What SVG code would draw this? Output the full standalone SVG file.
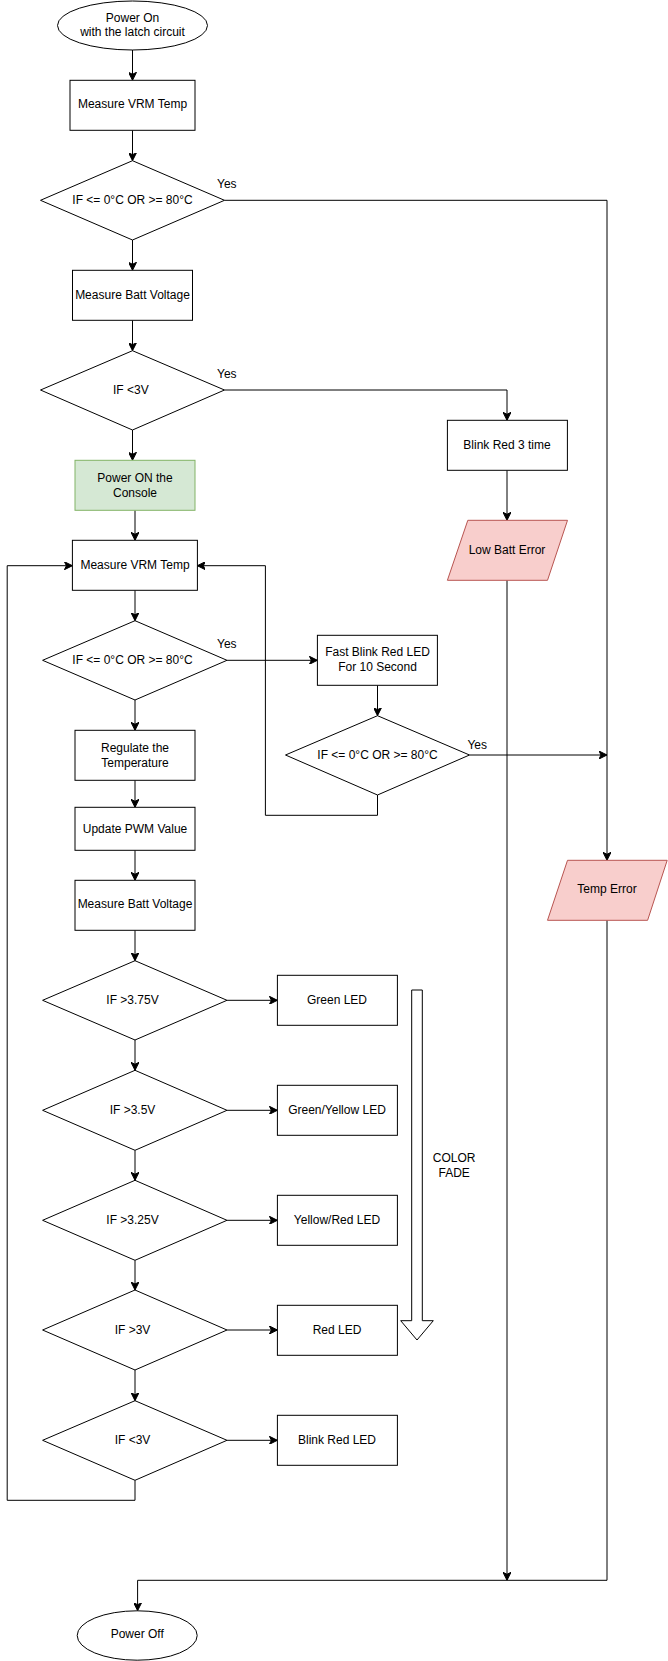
<svg xmlns="http://www.w3.org/2000/svg" width="668" height="1661" viewBox="0 0 668 1661">
<style>
  .n { fill: #ffffff; stroke: #000000; stroke-width: 1; }
  .g { fill: #d5e8d4; stroke: #82b366; stroke-width: 1; }
  .r { fill: #f8cecc; stroke: #b85450; stroke-width: 1; }
  .c { fill: none; stroke: #000000; stroke-width: 1; }
  .t { font-family: "Liberation Sans", Arial, sans-serif; font-size: 12px; fill: #000000; text-anchor: middle; dominant-baseline: central; }
  .y { font-family: "Liberation Sans", Arial, sans-serif; font-size: 12px; fill: #000000; text-anchor: start; dominant-baseline: central; }
</style>
<defs>
  <marker id="ar" viewBox="0 0 8 8" refX="8" refY="4" markerWidth="8" markerHeight="8" markerUnits="userSpaceOnUse" orient="auto">
    <path d="M0,0 L8,4 L0,8 L2,4 z" fill="#000000" stroke="#000000" stroke-width="1"/>
  </marker>
</defs>
<rect width="668" height="1661" fill="#ffffff"/>

<g id="connectors">
  <path class="c" marker-end="url(#ar)" d="M132.5,50 L132.5,80.3"/>
  <path class="c" marker-end="url(#ar)" d="M132.5,130.3 L132.5,160.7"/>
  <path class="c" marker-end="url(#ar)" d="M132.5,240 L132.5,270.3"/>
  <path class="c" marker-end="url(#ar)" d="M224.5,200.3 L607,200.3 L607,860.3"/>
  <path class="c" marker-end="url(#ar)" d="M132.5,320.3 L132.5,350.7"/>
  <path class="c" marker-end="url(#ar)" d="M224.5,390 L507,390 L507,420.3"/>
  <path class="c" marker-end="url(#ar)" d="M132.5,430 L132.5,460.3"/>
  <path class="c" marker-end="url(#ar)" d="M507,470.3 L507,520.3"/>
  <path class="c" marker-end="url(#ar)" d="M135,510.3 L135,540.3"/>
  <path class="c" marker-end="url(#ar)" d="M135,590.3 L135,620.7"/>
  <path class="c" marker-end="url(#ar)" d="M227,660.3 L317.4,660.3"/>
  <path class="c" marker-end="url(#ar)" d="M377.5,685.3 L377.5,715.7"/>
  <path class="c" marker-end="url(#ar)" d="M469.5,755 L607,755"/>
  <path class="c" marker-end="url(#ar)" d="M377.5,795 L377.5,815.3 L265.4,815.3 L265.4,565.7 L197.3,565.7"/>
  <path class="c" marker-end="url(#ar)" d="M135,700 L135,730.3"/>
  <path class="c" marker-end="url(#ar)" d="M135,780.3 L135,807.3"/>
  <path class="c" marker-end="url(#ar)" d="M135,850.3 L135,880.3"/>
  <path class="c" marker-end="url(#ar)" d="M135,930.3 L135,960.7"/>
  <path class="c" marker-end="url(#ar)" d="M227,1000.3 L277.4,1000.3"/>
  <path class="c" marker-end="url(#ar)" d="M227,1110.3 L277.4,1110.3"/>
  <path class="c" marker-end="url(#ar)" d="M227,1220.3 L277.4,1220.3"/>
  <path class="c" marker-end="url(#ar)" d="M227,1330 L277.4,1330"/>
  <path class="c" marker-end="url(#ar)" d="M227,1440.3 L277.4,1440.3"/>
  <path class="c" marker-end="url(#ar)" d="M135,1040 L135,1070.3"/>
  <path class="c" marker-end="url(#ar)" d="M135,1150.3 L135,1180.3"/>
  <path class="c" marker-end="url(#ar)" d="M135,1260.3 L135,1290"/>
  <path class="c" marker-end="url(#ar)" d="M135,1370 L135,1400.7"/>
  <path class="c" marker-end="url(#ar)" d="M135,1480.3 L135,1500.3 L7.2,1500.3 L7.2,565.7 L72.4,565.7"/>
  <path class="c" marker-end="url(#ar)" d="M507,580.3 L507,1580.3"/>
  <path class="c" marker-end="url(#ar)" d="M607,920.3 L607,1580.3 L137.6,1580.3 L137.6,1610.7"/>
  <text class="y" x="217" y="184.3">Yes</text>
  <text class="y" x="217" y="374.3">Yes</text>
  <text class="y" x="217" y="644.3">Yes</text>
  <text class="y" x="467.4" y="744.7">Yes</text>
</g>

<g id="power-on">
  <ellipse class="n" cx="132.5" cy="25.5" rx="75" ry="24.5"/>
  <text class="t" x="132.5" y="17.7">Power On</text>
  <text class="t" x="132.5" y="32.3">with the latch circuit</text>
</g>
<g id="measure-vrm-1">
  <rect class="n" x="70" y="80.3" width="125" height="50"/>
  <text class="t" x="132.5" y="104.3">Measure VRM Temp</text>
</g>
<g id="temp-check-1">
  <polygon class="n" points="132.5,160.7 224.5,200.3 132.5,240 40.5,200.3"/>
  <text class="t" x="132.5" y="200.3">IF &lt;= 0°C OR &gt;= 80°C</text>
</g>
<g id="measure-batt-1">
  <rect class="n" x="72.5" y="270.3" width="120" height="50"/>
  <text class="t" x="132.5" y="294.7">Measure Batt Voltage</text>
</g>
<g id="batt-check-1">
  <polygon class="n" points="132.5,350.7 224.5,390 132.5,430 40.5,390"/>
  <text class="t" x="130.8" y="390">IF &lt;3V</text>
</g>
<g id="power-on-console">
  <rect class="g" x="75" y="460.3" width="120" height="50"/>
  <text class="t" x="135" y="477.7">Power ON the</text>
  <text class="t" x="135" y="492.7">Console</text>
</g>
<g id="blink-red-3">
  <rect class="n" x="447.4" y="420.3" width="120" height="50"/>
  <text class="t" x="507" y="444.7">Blink Red 3 time</text>
</g>
<g id="low-batt-error">
  <polygon class="r" points="467.8,520.3 567.5,520.3 547.5,580.3 447.4,580.3"/>
  <text class="t" x="507" y="549.7">Low Batt Error</text>
</g>
<g id="measure-vrm-2">
  <rect class="n" x="72.4" y="540.3" width="125" height="50"/>
  <text class="t" x="135" y="565">Measure VRM Temp</text>
</g>
<g id="temp-check-2">
  <polygon class="n" points="135,620.7 227,660.3 135,700 42.6,660.3"/>
  <text class="t" x="132.5" y="660.3">IF &lt;= 0°C OR &gt;= 80°C</text>
</g>
<g id="fast-blink">
  <rect class="n" x="317.4" y="635.3" width="120" height="50"/>
  <text class="t" x="377.5" y="652.3">Fast Blink Red LED</text>
  <text class="t" x="377.5" y="667.3">For 10 Second</text>
</g>
<g id="temp-check-3">
  <polygon class="n" points="377.5,715.7 469.5,755 377.5,795 285.5,755"/>
  <text class="t" x="377.5" y="755">IF &lt;= 0°C OR &gt;= 80°C</text>
</g>
<g id="regulate">
  <rect class="n" x="75" y="730.3" width="120" height="50"/>
  <text class="t" x="135" y="747.7">Regulate the</text>
  <text class="t" x="135" y="762.7">Temperature</text>
</g>
<g id="update-pwm">
  <rect class="n" x="75" y="807.3" width="120" height="43"/>
  <text class="t" x="135" y="828.7">Update PWM Value</text>
</g>
<g id="measure-batt-2">
  <rect class="n" x="75" y="880.3" width="120" height="50"/>
  <text class="t" x="135" y="904.3">Measure Batt Voltage</text>
</g>
<g id="temp-error">
  <polygon class="r" points="567.5,860.3 667.2,860.3 647.6,920.3 547.5,920.3"/>
  <text class="t" x="607" y="889.3">Temp Error</text>
</g>
<g id="if-375">
  <polygon class="n" points="135,960.7 227,1000.3 135,1040 42.6,1000.3"/>
  <text class="t" x="132.5" y="1000.3">IF &gt;3.75V</text>
</g>
<g id="green-led">
  <rect class="n" x="277.4" y="975.3" width="120" height="50"/>
  <text class="t" x="337" y="999.7">Green LED</text>
</g>
<g id="if-35">
  <polygon class="n" points="135,1070.3 227,1110.3 135,1150.3 42.6,1110.3"/>
  <text class="t" x="132.5" y="1110.3">IF &gt;3.5V</text>
</g>
<g id="green-yellow-led">
  <rect class="n" x="277.4" y="1085.3" width="120" height="50"/>
  <text class="t" x="337" y="1109.7">Green/Yellow LED</text>
</g>
<g id="if-325">
  <polygon class="n" points="135,1180.3 227,1220.3 135,1260.3 42.6,1220.3"/>
  <text class="t" x="132.5" y="1220.3">IF &gt;3.25V</text>
</g>
<g id="yellow-red-led">
  <rect class="n" x="277.4" y="1195.3" width="120" height="50"/>
  <text class="t" x="337" y="1219.7">Yellow/Red LED</text>
</g>
<g id="if-3">
  <polygon class="n" points="135,1290 227,1330 135,1370 42.6,1330"/>
  <text class="t" x="132.5" y="1330">IF &gt;3V</text>
</g>
<g id="red-led">
  <rect class="n" x="277.4" y="1305.3" width="120" height="50"/>
  <text class="t" x="337" y="1329.7">Red LED</text>
</g>
<g id="if-lt3">
  <polygon class="n" points="135,1400.7 227,1440.3 135,1480.3 42.6,1440.3"/>
  <text class="t" x="132.5" y="1440.3">IF &lt;3V</text>
</g>
<g id="blink-red-led">
  <rect class="n" x="277.4" y="1415.3" width="120" height="50"/>
  <text class="t" x="337" y="1439.7">Blink Red LED</text>
</g>
<g id="color-fade">
  <path class="n" d="M411.7,990 L422.3,990 L422.3,1320.7 L433.3,1320.7 L417,1340 L400.7,1320.7 L411.7,1320.7 Z"/>
  <text class="t" x="454.2" y="1157.7">COLOR</text>
  <text class="t" x="454.2" y="1172.7">FADE</text>
</g>
<g id="power-off">
  <ellipse class="n" cx="137.2" cy="1635.5" rx="60" ry="24.7"/>
  <text class="t" x="137.2" y="1634.3">Power Off</text>
</g>
</svg>
